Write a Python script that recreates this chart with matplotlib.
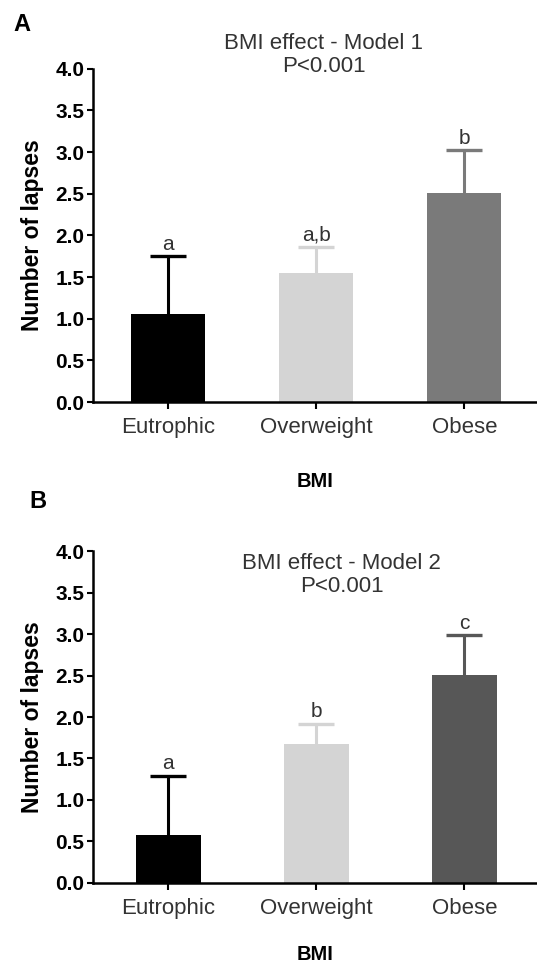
import matplotlib.pyplot as plt
import numpy as np

# data
groups = ['Eutrophic', 'Overweight', 'Obese']
model1_mean = [1.06, 1.55, 2.51]
model1_err = [0.69, 0.31, 0.51]
model1_letters = ['a', 'a,b', 'b']
model2_mean = [0.58, 1.67, 2.51]
model2_err = [0.71, 0.25, 0.48]
model2_letters = ['a', 'b', 'c']
colors_a = ['#000000', '#d4d4d4', '#7a7a7a']
colors_b = ['#000000', '#d4d4d4', '#575757']
yticks = [0.0, 0.5, 1.0, 1.5, 2.0, 2.5, 3.0, 3.5, 4.0]

plt.rcParams['font.family'] = ['Liberation Sans', 'DejaVu Sans']

fig = plt.figure(figsize=(5.37, 9.69), dpi=100)
ax1 = fig.add_axes([0.173, 0.585, 0.827, 0.344])
ax2 = fig.add_axes([0.173, 0.089, 0.827, 0.342])


def draw_panel(ax, means, errs, letters, colors, width, xlabelpad):
    x = np.arange(len(groups))
    ax.bar(x, means, width=width, color=colors, zorder=2)
    for i in range(len(groups)):
        eb = ax.errorbar(x[i], means[i], yerr=[[0], [errs[i]]], fmt='none',
                         ecolor=colors[i], elinewidth=2.2, capsize=13, capthick=2.4, zorder=1)
        # only keep the upper cap
        for cl in eb[1]:
            if abs(cl.get_ydata()[0] - means[i]) < 1e-9:
                cl.set_visible(False)
        ax.text(x[i], means[i] + errs[i] + 0.03, letters[i], ha='center', va='bottom',
                fontsize=15, color='#333333')
    ax.set_xlim(-0.51, 2.49)
    ax.set_ylim(0, 4.0)
    ax.set_yticks(yticks)
    ax.set_yticklabels(['%.1f' % v for v in yticks], fontweight='bold', fontsize=15)
    ax.set_xticks(x)
    ax.set_xticklabels(groups, fontsize=16, color='#333333')
    for s in ['top', 'right']:
        ax.spines[s].set_visible(False)
    ax.spines['left'].set_linewidth(1.8)
    ax.spines['bottom'].set_linewidth(1.8)
    ax.tick_params(axis='y', length=4, width=1.5, pad=2)
    ax.tick_params(axis='x', length=5, width=1.5, pad=6)
    ax.set_ylabel('Number of lapses', fontweight='bold', fontsize=16.5, labelpad=8)
    ax.set_xlabel('BMI', fontweight='bold', fontsize=14.5, labelpad=xlabelpad)


draw_panel(ax1, model1_mean, model1_err, model1_letters, colors_a, 0.5, 24)
draw_panel(ax2, model2_mean, model2_err, model2_letters, colors_b, 0.44, 19)

ax1.text(0.52, 1.042, 'BMI effect - Model 1\nP<0.001', transform=ax1.transAxes,
         ha='center', va='center', fontsize=16, color='#333333', linespacing=1.1)
ax2.text(0.56, 0.928, 'BMI effect - Model 2\nP<0.001', transform=ax2.transAxes,
         ha='center', va='center', fontsize=16, color='#333333', linespacing=1.1)

fig.text(0.041, 0.975, 'A', fontsize=17, fontweight='bold', ha='center', va='center')
fig.text(0.071, 0.482, 'B', fontsize=17, fontweight='bold', ha='center', va='center')

fig.savefig('out.png', dpi=100)
